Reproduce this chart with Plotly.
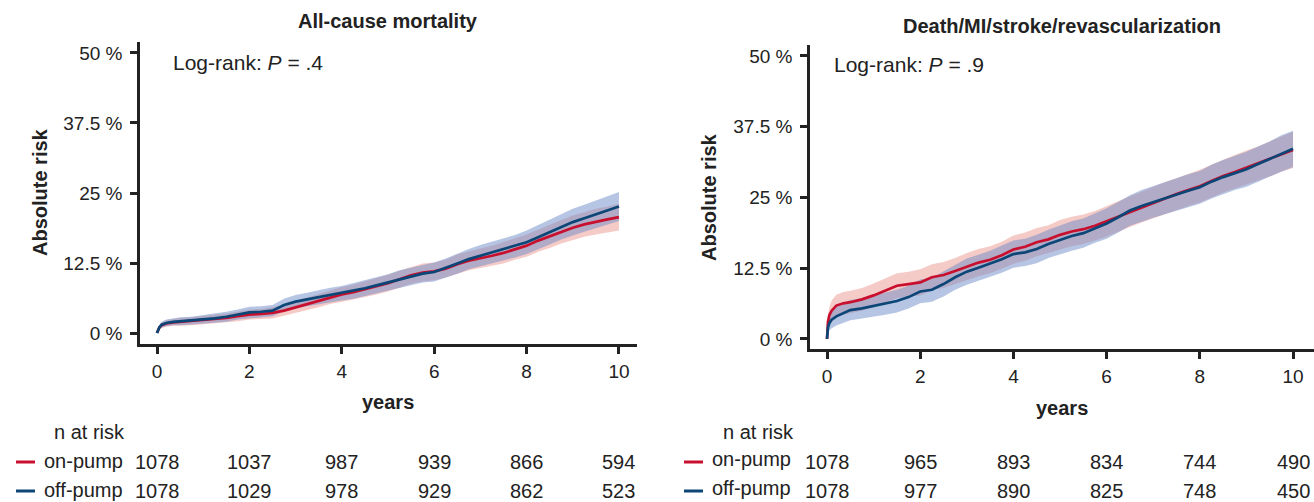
import plotly.graph_objects as go

# ---------------- data ----------------
T = [0, 0.02, 0.05, 0.1, 0.2, 0.35, 0.5, 0.75, 1.0, 1.25, 1.5, 1.75, 2.0, 2.25, 2.5, 2.75,
     3.0, 3.25, 3.5, 3.75, 4.0, 4.25, 4.5, 4.75, 5.0, 5.25, 5.5, 5.75, 6.0, 6.25, 6.5, 6.75,
     7.0, 7.25, 7.5, 7.75, 8.0, 8.25, 8.5, 8.75, 9.0, 9.25, 9.5, 9.75, 10.0]

# All-cause mortality (%)
mort_on = [0, 0.6, 1.0, 1.4, 1.7, 1.9, 2.0, 2.1, 2.3, 2.5, 2.7, 3.0, 3.3, 3.4, 3.6, 4.0,
           4.6, 5.2, 5.8, 6.4, 6.9, 7.3, 7.8, 8.3, 8.9, 9.6, 10.3, 10.8, 11.0, 11.5, 12.3, 12.9,
           13.3, 13.8, 14.3, 15.0, 15.6, 16.5, 17.3, 18.1, 18.8, 19.4, 19.9, 20.3, 20.7]
mort_off = [0, 0.6, 1.0, 1.5, 1.8, 2.0, 2.1, 2.2, 2.4, 2.6, 2.9, 3.3, 3.7, 3.8, 4.0, 5.0,
            5.6, 6.0, 6.4, 6.8, 7.1, 7.5, 8.0, 8.5, 9.0, 9.6, 10.1, 10.6, 10.9, 11.6, 12.4, 13.2,
            13.8, 14.4, 15.0, 15.5, 16.2, 17.1, 18.0, 19.0, 19.8, 20.5, 21.2, 21.9, 22.6]
mort_on_hw = [0, 0.3, 0.4, 0.5, 0.6, 0.6, 0.7, 0.7, 0.8, 0.8, 0.8, 0.9, 0.9, 0.9, 1.0, 1.0,
              1.1, 1.1, 1.2, 1.2, 1.3, 1.3, 1.4, 1.4, 1.5, 1.5, 1.5, 1.6, 1.6, 1.6, 1.7, 1.7,
              1.8, 1.8, 1.9, 1.9, 2.0, 2.0, 2.1, 2.1, 2.2, 2.2, 2.3, 2.3, 2.4]
mort_off_hw = [0, 0.3, 0.4, 0.5, 0.6, 0.6, 0.7, 0.7, 0.8, 0.8, 0.9, 0.9, 1.0, 1.0, 1.0, 1.1,
               1.2, 1.2, 1.3, 1.3, 1.3, 1.4, 1.4, 1.5, 1.5, 1.6, 1.6, 1.6, 1.7, 1.7, 1.8, 1.8,
               1.9, 1.9, 2.0, 2.0, 2.1, 2.2, 2.2, 2.3, 2.4, 2.4, 2.5, 2.5, 2.6]

# Death/MI/stroke/revascularization (%)
mace_on = [0, 3.0, 4.2, 5.0, 5.9, 6.3, 6.5, 7.0, 7.7, 8.6, 9.4, 9.7, 10.0, 10.9, 11.3, 12.0,
           12.8, 13.5, 14.0, 14.8, 15.8, 16.3, 17.1, 17.6, 18.4, 19.0, 19.4, 20.0, 20.8, 21.6, 22.5, 23.3,
           24.1, 24.9, 25.6, 26.3, 27.0, 27.9, 28.8, 29.5, 30.3, 31.0, 31.8, 32.7, 33.4]
mace_off = [0, 2.0, 2.8, 3.4, 4.0, 4.6, 5.1, 5.4, 5.8, 6.2, 6.7, 7.4, 8.4, 8.7, 9.7, 10.9,
            11.9, 12.6, 13.3, 14.1, 15.0, 15.3, 15.9, 16.8, 17.5, 18.2, 18.7, 19.6, 20.4, 21.5, 22.7, 23.5,
            24.2, 24.9, 25.6, 26.2, 26.8, 27.8, 28.6, 29.3, 30.0, 30.9, 31.8, 32.8, 33.6]
mace_on_hw = [0, 1.2, 1.5, 1.8, 1.9, 2.0, 2.0, 2.0, 2.1, 2.1, 2.2, 2.2, 2.3, 2.3, 2.3, 2.3,
              2.4, 2.4, 2.4, 2.4, 2.5, 2.5, 2.5, 2.5, 2.6, 2.6, 2.6, 2.6, 2.7, 2.7, 2.7, 2.7,
              2.8, 2.8, 2.8, 2.8, 2.9, 2.9, 2.9, 3.0, 3.0, 3.0, 3.1, 3.1, 3.2]
mace_off_hw = [0, 1.0, 1.3, 1.5, 1.6, 1.7, 1.8, 1.8, 1.9, 1.9, 2.0, 2.0, 2.1, 2.1, 2.2, 2.2,
               2.3, 2.3, 2.3, 2.4, 2.4, 2.4, 2.5, 2.5, 2.5, 2.6, 2.6, 2.6, 2.7, 2.7, 2.7, 2.8,
               2.8, 2.8, 2.9, 2.9, 2.9, 3.0, 3.0, 3.0, 3.1, 3.1, 3.1, 3.2, 3.2]

x_ticks = [0, 2, 4, 6, 8, 10]
y_ticks = [0, 12.5, 25, 37.5, 50]
y_ticktext = ["0 %", "12.5 %", "25 %", "37.5 %", "50 %"]

titles = ["All-cause mortality", "Death/MI/stroke/revascularization"]
pvalues = [".4", ".9"]
groups = ["on-pump", "off-pump"]
risk_times = [0, 2, 4, 6, 8, 10]
risk_mort_on = [1078, 1037, 987, 939, 866, 594]
risk_mort_off = [1078, 1029, 978, 929, 862, 523]
risk_mace_on = [1078, 965, 893, 834, 744, 490]
risk_mace_off = [1078, 977, 890, 825, 748, 450]

# ---------------- style ----------------
W, H = 1314, 502
RED = "#C8102E"
BLUE = "#0B4677"
RED_BAND = "rgba(232,140,130,0.45)"
BLUE_BAND = "rgba(110,140,200,0.50)"
FONT = "Liberation Sans, Arial, Helvetica, sans-serif"
TXT = "#222222"


def px(x):
    return x / W


def py(y):
    return 1 - y / H


fig = go.Figure()

panels = [
    dict(xa="x", ya="y", on=mort_on, off=mort_off, onh=mort_on_hw, offh=mort_off_hw),
    dict(xa="x2", ya="y2", on=mace_on, off=mace_off, onh=mace_on_hw, offh=mace_off_hw),
]

for p in panels:
    for vals, hw, band in [(p["on"], p["onh"], RED_BAND), (p["off"], p["offh"], BLUE_BAND)]:
        lo = [v - h for v, h in zip(vals, hw)]
        hi = [v + h for v, h in zip(vals, hw)]
        fig.add_trace(go.Scatter(x=T + T[::-1], y=hi + lo[::-1], fill="toself", fillcolor=band,
                                 line=dict(width=0), mode="lines",
                                 hoverinfo="skip", showlegend=False, xaxis=p["xa"], yaxis=p["ya"]))
    for vals, col in [(p["on"], RED), (p["off"], BLUE)]:
        fig.add_trace(go.Scatter(x=T, y=vals, mode="lines", line=dict(color=col, width=2.7),
                                 showlegend=False, xaxis=p["xa"], yaxis=p["ya"]))

axis_common = dict(showgrid=False, zeroline=False, showline=True, linecolor="#222222", linewidth=2.5,
                   ticks="outside", ticklen=7, tickwidth=2.5, tickcolor="#222222",
                   tickfont=dict(family=FONT, size=19, color=TXT))

fig.update_layout(
    width=W, height=H, margin=dict(l=0, r=0, t=0, b=0),
    paper_bgcolor="white", plot_bgcolor="white",
    xaxis=dict(domain=[px(140), px(637)], range=[-0.368, 10.39], tickvals=x_ticks, anchor="y",
               ticklabelstandoff=1, **axis_common),
    yaxis=dict(domain=[py(344), py(42)], range=[-1.96, 51.96], tickvals=y_ticks, ticktext=y_ticktext,
               anchor="x", ticklabelstandoff=4, **axis_common),
    xaxis2=dict(domain=[px(810), 1.0], range=[-0.365, 10.45], tickvals=x_ticks, anchor="y2",
                ticklabelstandoff=1, **axis_common),
    yaxis2=dict(domain=[py(349), py(45)], range=[-1.77, 51.94], tickvals=y_ticks, ticktext=y_ticktext,
                anchor="x2", ticklabelstandoff=4, **axis_common),
)

ann = []


def text(s, x, y, size, xanchor="center", angle=0):
    ann.append(dict(text=s, x=px(x), y=py(y), xref="paper", yref="paper", xanchor=xanchor,
                    yanchor="middle", textangle=angle, showarrow=False,
                    font=dict(family=FONT, size=size, color=TXT)))


# titles
text("<b>" + titles[0] + "</b>", 388, 21, 20)
text("<b>" + titles[1] + "</b>", 1062, 26, 20)
# log-rank
text("Log-rank: <i>P</i> = " + pvalues[0], 171, 62, 21, "left")
text("Log-rank: <i>P</i> = " + pvalues[1], 832, 64, 21, "left")
# y titles
text("<b>Absolute risk</b>", 40, 192, 20, angle=-90)
text("<b>Absolute risk</b>", 709, 197, 20, angle=-90)
# x titles
text("<b>years</b>", 388, 402, 20)
text("<b>years</b>", 1062, 408, 20)

# risk table
rows_y = [[462, 491], [462, 491]]
for pi, (nx, segx0, labx, xa, rows) in enumerate([
    (52, 16, 42, "x", [risk_mort_on, risk_mort_off]),
    (721, 684, 710, "x2", [risk_mace_on, risk_mace_off]),
]):
    text("n at risk", nx, 432, 20, "left")
    for gi, (g, col) in enumerate(zip(groups, [RED, BLUE])):
        yy = rows_y[pi][gi]
        fig.add_shape(type="line", xref="paper", yref="paper", x0=px(segx0), x1=px(segx0 + 19),
                      y0=py(yy), y1=py(yy), line=dict(color=col, width=3))
        text(g, labx, yy - (3 if pi == 1 else 1), 20, "left")
        for t, n in zip(risk_times, rows[gi]):
            ann.append(dict(text=str(n), x=t, y=py(yy), xref=xa, yref="paper", xanchor="center",
                            yanchor="middle", showarrow=False,
                            font=dict(family=FONT, size=20, color=TXT)))

fig.update_layout(annotations=ann)
fig.write_html("out.html", config={"displayModeBar": False},
               post_script="document.body.style.margin='0';document.body.style.overflow='hidden';")
